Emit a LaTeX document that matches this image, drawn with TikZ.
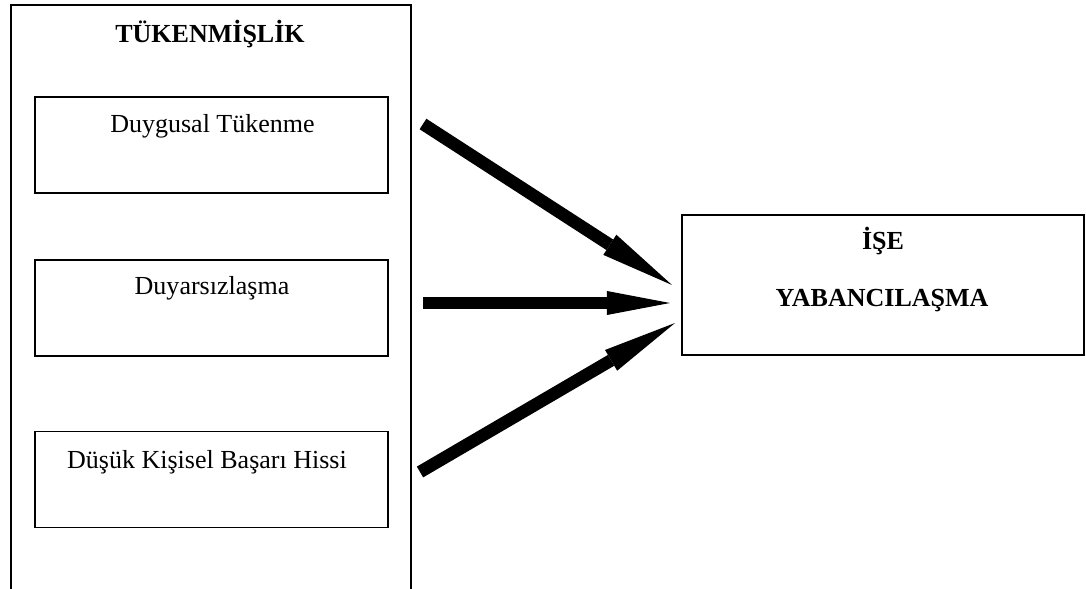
\documentclass[tikz,border=0pt]{standalone}
\usepackage{fontspec}
\setmainfont{Liberation Serif}
\usetikzlibrary{arrows.meta}
\tikzset{
  kutu/.style={draw, line width=1.1pt, inner sep=0pt, minimum width=8.825cm, minimum height=2.4cm},
  yazi/.style={anchor=base, inner sep=0pt, font=\fontsize{18.5}{22}\selectfont},
  kalin/.style={yazi, font=\fontsize{18.5}{22}\selectfont\bfseries},
  okcizgi/.style={line width=0.3125cm, -{Triangle[length=1.85cm,width=0.6cm,line width=0pt]}}
}

\begin{document}
\begin{tikzpicture}[x=0.025cm,y=-0.025cm]
\clip (0,0) rectangle (1086,589);
\draw[line width=1.1pt] (11,600)--(11,5)--(411,5)--(411,600);
\node[kalin] (tukenmislik) at (210,43) {TÜKENMİŞLİK};
\node[kutu] (duygusal) at (211.5,145) {};
\node[kutu] (duyarsiz) at (211.5,308) {};
\node[kutu] (basari) at (211.5,479.5) {};
\node[yazi] (t1) at (212.5,133) {Duygusal Tükenme};
\node[yazi] (t2) at (212,295) {Duyarsızlaşma};
\node[yazi] (t3) at (207,469) {Düşük Kişisel Başarı Hissi};
\node[kutu, minimum width=10.05cm, minimum height=3.5cm] (yabanci) at (883,285) {};
\node[kalin] (ise) at (883,250) {İŞE};
\node[kalin] (yab) at (882,307) {YABANCILAŞMA};
\coordinate (k1) at (423,124);
\coordinate (k2) at (423,303);
\coordinate (k3) at (420,472);
\coordinate (u1) at (672,285);
\coordinate (u2) at (670,303);
\coordinate (u3) at (675,323);
\draw[okcizgi] (k1) -- (u1);
\draw[okcizgi, -{Triangle[length=1.575cm,width=0.6cm,line width=0pt]}] (k2) -- (u2);
\draw[okcizgi] (k3) -- (u3);
\end{tikzpicture}
\end{document}
